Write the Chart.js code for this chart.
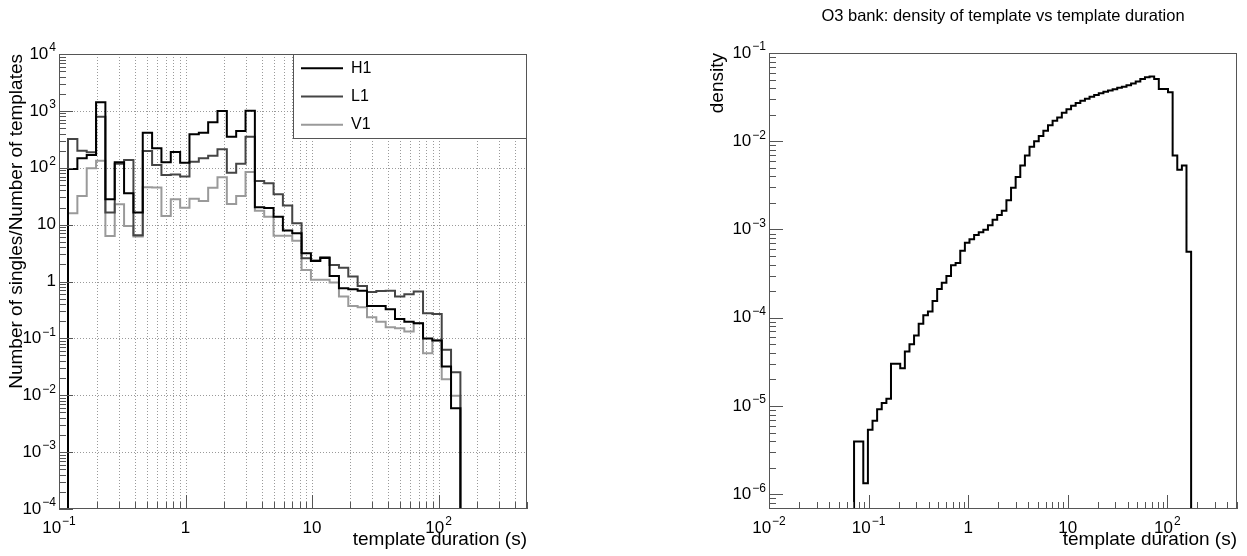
<!DOCTYPE html>
<html>
<head>
<meta charset="utf-8">
<title>Template duration histograms</title>
<script src="https://cdn.jsdelivr.net/npm/chart.js@4.4.1/dist/chart.umd.min.js"></script>
<style>
  html, body { margin: 0; padding: 0; background: #fff; }
  #wrap { position: relative; width: 1247px; height: 556px; overflow: hidden; }
  .box { position: absolute; top: 0; height: 556px; }
</style>
</head>
<body>
<div id="wrap">
  <div class="box" style="left:0;width:620px"><canvas id="singlesChart" width="620" height="556"></canvas></div>
  <div class="box" style="left:620px;width:627px"><canvas id="densityChart" width="627" height="556"></canvas></div>
</div>
<script>
// ---- datos: histograma de singles (bordes de bin en segundos, 42 bins)
const singlesEdges = [0.1178, 0.1397, 0.1656, 0.1963, 0.2326, 0.2757, 0.3268, 0.3875, 0.4592, 0.5443,
  0.6451, 0.7647, 0.9066, 1.0745, 1.2738, 1.5098, 1.7889, 2.1211, 2.5142, 2.9805,
  3.5327, 4.1869, 4.9634, 5.8829, 6.9743, 8.2665, 9.797, 11.614, 13.765, 16.318,
  19.34, 22.93, 27.18, 32.21, 38.19, 45.26, 53.64, 63.59, 75.38, 89.35,
  105.9, 125.5, 148.8];
const singlesH1 = [95, 147, 167, 1416, 27.9, 125, 35.6, 16.3, 414, 220,
  125, 190, 123, 388, 414, 631, 996, 352, 443, 1008,
  20.2, 19.6, 13.8, 7.85, 7.06, 3.14, 2.3, 2.6, 1.25, 0.762,
  0.733, 0.69, 0.372, 0.372, 0.326, 0.22, 0.197, 0.185, 0.1, 0.0914,
  0.0319, 0.0059];
const singlesL1 = [321, 200, 187, 790, 16.3, 117, 137, 6.5, 197, 112,
  74.6, 76, 70, 128, 147, 163, 211, 82, 117, 352,
  58.6, 53.5, 34.2, 21.6, 10.6, 2.57, 2.35, 2.67, 1.96, 1.75,
  1.22, 0.837, 0.656, 0.684, 0.69, 0.543, 0.598, 0.665, 0.277, 0.268,
  0.0628, 0.0255];
const singlesV1 = [15.9, 32, 98, 133, 6.3, 22.8, 9.5, 6.2, 45.4, 45,
  14.2, 27.9, 19.9, 28.6, 26.1, 44.7, 68, 23.1, 31.9, 84,
  17.6, 13.8, 6.4, 6.4, 5.2, 1.6, 1.07, 1.07, 0.957, 0.543,
  0.372, 0.353, 0.235, 0.197, 0.157, 0.151, 0.132, 0.185, 0.0549, 0.093,
  0.0192, 0.0098];

// ---- datos: densidad del banco O3 (73 bins)
const densityEdges = [0.07145, 0.07953, 0.08846, 0.09842, 0.1095, 0.1218, 0.1355, 0.1509, 0.1678, 0.1867,
  0.2078, 0.2312, 0.2572, 0.2861, 0.3184, 0.3542, 0.3942, 0.4386, 0.4881, 0.5430,
  0.6042, 0.6723, 0.7478, 0.8324, 0.9261, 1.030, 1.147, 1.276, 1.419, 1.579,
  1.757, 1.955, 2.175, 2.420, 2.693, 2.996, 3.334, 3.710, 4.128, 4.592,
  5.110, 5.686, 6.326, 7.039, 7.830, 8.713, 9.696, 10.79, 12.00, 13.36,
  14.86, 16.54, 18.40, 20.47, 22.78, 25.34, 28.20, 31.37, 34.91, 38.84,
  43.21, 48.08, 53.49, 59.52, 66.22, 73.68, 82.00, 91.22, 101.5, 112.9,
  125.7, 139.8, 155.5, 173.1];
const densityValues = [3.96e-6, 3.96e-6, 1.33e-6, 5.37e-6, 6.78e-6, 9.2e-6, 1.08e-5, 1.21e-5, 3.0e-5, 3.0e-5,
  2.68e-5, 4.15e-5, 5.0e-5, 6.3e-5, 8.57e-5, 1.07e-4, 1.18e-4, 1.55e-4, 2.11e-4, 2.49e-4,
  2.98e-4, 3.94e-4, 4.16e-4, 5.75e-4, 7.06e-4, 7.74e-4, 8.67e-4, 9.33e-4, 9.96e-4, 1.12e-3,
  1.29e-3, 1.46e-3, 1.63e-3, 2.15e-3, 2.98e-3, 3.94e-3, 5.31e-3, 6.89e-3, 8.69e-3, 9.98e-3,
  1.148e-2, 1.318e-2, 1.517e-2, 1.71e-2, 1.86e-2, 2.10e-2, 2.30e-2, 2.53e-2, 2.72e-2, 2.88e-2,
  3.04e-2, 3.19e-2, 3.34e-2, 3.50e-2, 3.63e-2, 3.77e-2, 3.88e-2, 4.03e-2, 4.14e-2, 4.30e-2,
  4.50e-2, 4.75e-2, 5.07e-2, 5.32e-2, 5.42e-2, 5.07e-2, 3.91e-2, 3.91e-2, 3.60e-2, 6.89e-3,
  4.74e-3, 5.31e-3, 5.60e-4];

// ---- ejes (rangos y etiquetas)
const singlesXRange = [0.1, 500];
const singlesYRange = [1e-4, 1e4];
const singlesXTicks = [0.1, 1, 10, 100];
const singlesYTicks = [1e-4, 1e-3, 1e-2, 1e-1, 1, 10, 100, 1000, 10000];
const densityXRange = [0.01, 500];
const densityYRange = [6.8e-7, 0.1];
const densityXTicks = [0.01, 0.1, 1, 10, 100];
const densityYTicks = [1e-6, 1e-5, 1e-4, 1e-3, 1e-2, 1e-1];

const FONT = '"Liberation Sans", Arial, Helvetica, sans-serif';

// Contorno de histograma estilo ROOT: sube desde el fondo, escalones, baja al fondo
function histPoints(edges, values, base) {
  const pts = [{ x: edges[0], y: base }];
  values.forEach((v, i) => {
    pts.push({ x: edges[i], y: v }, { x: edges[i + 1], y: v });
  });
  pts.push({ x: edges[edges.length - 1], y: base });
  return pts;
}

// Posiciones de marcas 1..9 x 10^n dentro del rango
function tickValues(min, max) {
  const out = [];
  for (let e = Math.floor(Math.log10(min)); e <= Math.ceil(Math.log10(max)); e++) {
    for (let m = 1; m <= 9; m++) {
      const v = m * Math.pow(10, e);
      if (v >= min * 0.9999 && v <= max * 1.0001) out.push(v);
    }
  }
  return out;
}

function isDecade(v) {
  const l = Math.log10(v);
  return Math.abs(l - Math.round(l)) < 1e-6;
}

// Etiqueta 10^n con exponente pequeño
function drawPower(ctx, v, x, y, align) {
  const e = Math.round(Math.log10(v));
  const base = e === 0 ? '1' : '10';
  const sup = e === 0 || e === 1 ? '' : (e < 0 ? '\u2212' + (-e) : String(e));
  ctx.font = '17px ' + FONT;
  const bw = ctx.measureText(base).width;
  ctx.font = '12px ' + FONT;
  const sw = sup ? ctx.measureText(sup).width + 1 : 0;
  const left = align === 'center' ? x - (bw + sw) / 2 : x - bw - sw;
  ctx.textAlign = 'left';
  ctx.textBaseline = 'middle';
  ctx.fillStyle = '#000';
  ctx.font = '17px ' + FONT;
  ctx.fillText(base, left, y);
  if (sup) {
    ctx.font = '12px ' + FONT;
    ctx.fillText(sup, left + bw + 1, y - 6);
  }
}

// Plugin: rejilla, marco, marcas, etiquetas, títulos y leyenda al estilo ROOT
const rootStyle = {
  id: 'rootStyle',
  beforeDatasetsDraw(chart, args, opts) {
    if (!opts.grid) return;
    const { ctx, chartArea: a, scales: { x, y } } = chart;
    ctx.save();
    ctx.strokeStyle = '#9a9a9a';
    ctx.lineWidth = 1;
    ctx.setLineDash([1, 2]);
    ctx.beginPath();
    tickValues(x.min, x.max).forEach((v) => {
      const px = Math.round(x.getPixelForValue(v)) + 0.5;
      if (px <= a.left + 1 || px >= a.right - 1) return;
      ctx.moveTo(px, a.top);
      ctx.lineTo(px, a.bottom);
    });
    tickValues(y.min, y.max).filter(isDecade).forEach((v) => {
      const py = Math.round(y.getPixelForValue(v)) + 0.5;
      if (py <= a.top + 1 || py >= a.bottom - 1) return;
      ctx.moveTo(a.left, py);
      ctx.lineTo(a.right, py);
    });
    ctx.stroke();
    ctx.restore();
  },
  afterDatasetsDraw(chart, args, opts) {
    const { ctx, chartArea: a, scales: { x, y } } = chart;
    ctx.save();

    // leyenda
    if (opts.legend) {
      const L = opts.legend;
      ctx.fillStyle = '#fff';
      ctx.fillRect(L.left, L.top, L.right - L.left, L.bottom - L.top);
      ctx.strokeStyle = '#555';
      ctx.lineWidth = 1;
      ctx.strokeRect(L.left + 0.5, L.top + 0.5, L.right - L.left - 1, L.bottom - L.top - 1);
      const rowH = (L.bottom - L.top) / chart.data.datasets.length;
      chart.data.datasets.forEach((ds, i) => {
        const cy = L.top + rowH * (i + 0.5);
        ctx.strokeStyle = ds.borderColor;
        ctx.lineWidth = 2;
        ctx.beginPath();
        ctx.moveTo(L.left + 8, cy);
        ctx.lineTo(L.left + 50, cy);
        ctx.stroke();
        ctx.fillStyle = '#000';
        ctx.font = '16px ' + FONT;
        ctx.textAlign = 'left';
        ctx.textBaseline = 'middle';
        ctx.fillText(ds.label, L.left + 58, cy);
      });
    }

    // marco
    ctx.strokeStyle = '#555';
    ctx.lineWidth = 1;
    ctx.setLineDash([]);
    ctx.strokeRect(a.left + 0.5, a.top + 0.5, a.width - 1, a.height - 1);

    // marcas hacia dentro
    ctx.beginPath();
    tickValues(x.min, x.max).forEach((v) => {
      const px = Math.round(x.getPixelForValue(v)) + 0.5;
      const len = isDecade(v) ? 14 : 7;
      ctx.moveTo(px, a.bottom);
      ctx.lineTo(px, a.bottom - len);
    });
    tickValues(y.min, y.max).forEach((v) => {
      const py = Math.round(y.getPixelForValue(v)) + 0.5;
      const len = isDecade(v) ? 14 : 7;
      ctx.moveTo(a.left, py);
      ctx.lineTo(a.left + len, py);
    });
    ctx.stroke();

    // etiquetas de los ejes
    opts.xTicks.forEach((v) => drawPower(ctx, v, x.getPixelForValue(v), a.bottom + 19, 'center'));
    opts.yTicks.forEach((v) => drawPower(ctx, v, a.left - 3, y.getPixelForValue(v), 'right'));

    // títulos de los ejes
    ctx.fillStyle = '#000';
    ctx.font = '19px ' + FONT;
    ctx.textAlign = 'right';
    ctx.textBaseline = 'middle';
    ctx.fillText(opts.xTitle, a.right, a.bottom + 31);

    ctx.save();
    ctx.translate(opts.yTitleX, a.top);
    ctx.rotate(-Math.PI / 2);
    ctx.fillText(opts.yTitle, 0, 0);
    ctx.restore();

    if (opts.title) {
      ctx.font = '16.5px ' + FONT;
      ctx.textAlign = 'center';
      ctx.fillText(opts.title, opts.titleX, opts.titleY);
    }
    ctx.restore();
  },
};

function logScale(range) {
  return { type: 'logarithmic', display: false, min: range[0], max: range[1] };
}

function histDataset(label, edges, values, base, color) {
  return {
    label: label,
    data: histPoints(edges, values, base),
    borderColor: color,
    borderWidth: 2,
    pointRadius: 0,
    fill: false,
    tension: 0,
  };
}

// Gráfico izquierdo: singles / número de templates
new Chart(document.getElementById('singlesChart').getContext('2d'), {
  type: 'line',
  data: {
    datasets: [
      histDataset('H1', singlesEdges, singlesH1, singlesYRange[0], '#000000'),
      histDataset('L1', singlesEdges, singlesL1, singlesYRange[0], '#454545'),
      histDataset('V1', singlesEdges, singlesV1, singlesYRange[0], '#9a9a9a'),
    ],
  },
  options: {
    responsive: false,
    animation: false,
    devicePixelRatio: 1,
    layout: { padding: { left: 59, top: 54, right: 93, bottom: 47 } },
    scales: { x: logScale(singlesXRange), y: logScale(singlesYRange) },
    plugins: {
      legend: { display: false },
      tooltip: { enabled: false },
      rootStyle: {
        grid: true,
        xTicks: singlesXTicks,
        yTicks: singlesYTicks,
        xTitle: 'template duration (s)',
        yTitle: 'Number of singles/Number of templates',
        yTitleX: 17,
        legend: { left: 293, top: 54, right: 527, bottom: 139 },
      },
    },
  },
  plugins: [rootStyle],
});

// Gráfico derecho: densidad de templates
new Chart(document.getElementById('densityChart').getContext('2d'), {
  type: 'line',
  data: {
    datasets: [
      histDataset('density', densityEdges, densityValues, densityYRange[0], '#000000'),
    ],
  },
  options: {
    responsive: false,
    animation: false,
    devicePixelRatio: 1,
    layout: { padding: { left: 149, top: 53, right: 10, bottom: 47 } },
    scales: { x: logScale(densityXRange), y: logScale(densityYRange) },
    plugins: {
      legend: { display: false },
      tooltip: { enabled: false },
      rootStyle: {
        grid: false,
        xTicks: densityXTicks,
        yTicks: densityYTicks,
        xTitle: 'template duration (s)',
        yTitle: 'density',
        yTitleX: 98,
        title: 'O3 bank: density of template vs template duration',
        titleX: 383,
        titleY: 16,
      },
    },
  },
  plugins: [rootStyle],
});
</script>
</body>
</html>
